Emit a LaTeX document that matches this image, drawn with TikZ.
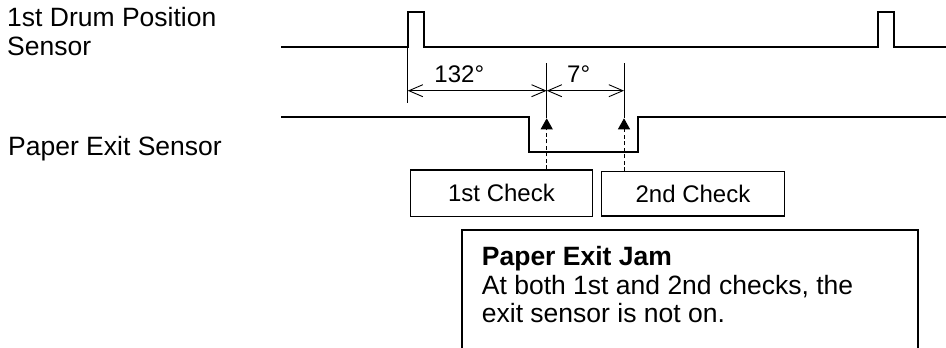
\documentclass[tikz,border=0pt]{standalone}
\usepackage{fontspec}
\setmainfont{Liberation Sans}
\usetikzlibrary{arrows.meta}
\tikzset{
  signal/.style={line width=2pt, line join=miter},
  dimline/.style={line width=0.9pt},
  dimtip/.tip={Straight Barb[length=14pt, width=12pt]},
  probe/.style={line width=1pt, dash pattern=on 4pt off 2.5pt, -{Triangle[length=11pt, width=12pt]}},
  chkbox/.style={draw, line width=1.2pt, inner sep=0pt, font=\fontsize{24}{28}\selectfont},
  lbl/.style={inner sep=0pt, font=\fontsize{26.5}{29}\selectfont},
  anglbl/.style={inner sep=0pt, anchor=base, font=\fontsize{24}{28}\selectfont}
}
\begin{document}
\begin{tikzpicture}[x=1pt, y=-1pt]
  \useasboundingbox (0,0) rectangle (946,348);

  % 标签
  \node[lbl, anchor=north west, align=left] (drumlbl) at (7,7) {1st Drum Position\\Sensor};
  \node[lbl, anchor=base west] (exitlbl) at (8,155) {Paper Exit Sensor};

  % 鼓位置信号
  \draw[signal] (281,46.7) -- (407.7,46.7) -- (407.7,11.7) -- (424,11.7) -- (424,46.7)
    -- (878,46.7) -- (878,11.7) -- (894,11.7) -- (894,46.7) -- (946,46.7);

  % 出纸信号
  \draw[signal] (281,116.7) -- (529,116.7) -- (529,151.7) -- (638,151.7) -- (638,116.7) -- (946,116.7);

  % 尺寸线
  \coordinate (t0) at (407.7,46.7);
  \coordinate (t1) at (546.7,63.3);
  \coordinate (t2) at (624,63.3);
  \coordinate (e0) at (407.7,103);
  \coordinate (s1) at (546.7,118.3);
  \coordinate (s2) at (624,118.3);
  \coordinate (d0) at (407.7,90.7);
  \coordinate (d1) at (546.7,90.7);
  \coordinate (d2) at (624,90.7);
  \draw[dimline] (t0) -- (e0);
  \draw[dimline] (t1) -- (s1);
  \draw[dimline] (t2) -- (s2);
  \draw[dimline, dimtip-dimtip] (d0) -- (d1);
  \draw[dimline, dimtip-dimtip] (d1) -- (d2);
  \node[anglbl] (ang1) at (459.3,82) {132°};
  \node[anglbl] (ang2) at (578.7,82) {7°};

  % 检测点
  \node[chkbox, minimum width=181.6pt, minimum height=46.7pt] (chk1) at (501.5,193.3) {1st Check};
  \node[chkbox, minimum width=182.6pt, minimum height=44.3pt] (chk2) at (693,193.9) {2nd Check};
  \draw[probe] (chk1.north -| s1) -- (s1);
  \draw[probe] (chk2.north -| s2) -- (s2);

  % 卡纸说明
  \draw[line width=1.6pt] (461.7,352) -- (461.7,230) -- (918,230) -- (918,352);
  \node[lbl, anchor=base west, font=\bfseries\fontsize{26.5}{29}\selectfont] (jamhead) at (481.7,265) {Paper Exit Jam};
  \node[lbl, anchor=north west, align=left, font=\fontsize{26.5}{27.7}\selectfont] (jambody) at (481.7,275) {At both 1st and 2nd checks, the\\exit sensor is not on.};
\end{tikzpicture}
\end{document}
